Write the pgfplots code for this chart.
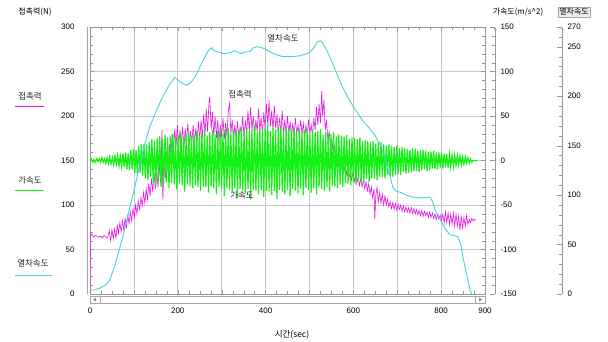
\documentclass[border=0pt]{standalone}
\usepackage{pgfplots}
\pgfplotsset{compat=1.18}
\usepackage{fontspec}
\setmainfont{Liberation Sans}
\newfontfamily\kr{Noto Sans CJK KR}
\definecolor{cf}{RGB}{230,20,230}
\definecolor{ca}{RGB}{20,240,20}
\definecolor{cs}{RGB}{70,210,220}
\definecolor{gr}{RGB}{200,200,200}
\pgfplotsset{
  base/.style={scale only axis, width=395bp, height=267bp, xmin=0, xmax=900,
    /pgf/number format/assume math mode=true,
    tick label style={font=\fontsize{8}{9}\selectfont},
    major tick length=4bp, minor tick length=2.5bp},
  side/.style={scale only axis, width=1bp, height=267bp, xmin=0, xmax=1,
    axis y line=right, axis x line=none, tick align=inside,
    /pgf/number format/assume math mode=true,
    tick label style={font=\fontsize{8}{9}\selectfont},
    yticklabel style={xshift=2bp},
    major tick length=5bp, minor tick length=3bp,
    axis line style={gray!80}, tick style={gray!80}},
}
\begin{document}
\begin{tikzpicture}
\useasboundingbox (-90bp,-48bp) rectangle (518bp,294bp);
% main axis: contact force
\begin{axis}[base, ymin=0, ymax=300,
  xtick={0,100,...,900}, xticklabels={0,,200,,400,,600,,800,900},
  ytick={0,50,...,300}, minor x tick num=3, minor y tick num=4,
  grid=major, major grid style={gr, line width=0.7pt},
  axis line style={gray!80}, tick style={gray!80},
  xticklabel style={yshift=-10bp}, yticklabel style={xshift=-12bp}]
\addplot[cf, line width=0.6pt] coordinates {
(0,0) (1,69) (2,66) (5,67) (8,64) (12,66) (16,65) (20,64) (24,65) (28,63) (32,66) (36,64) (40,63) (44,71) (47,60) (50,72) (53,62) (56,73) (59,63) (62,77) (65,68) (68,80) (71,70) (74,82) (77,72) (80,85) (83,75) (86,88) (89,79) (92,92) (95,82) (98,96) (101,86) (104,100) (107,90) (110,104) (113,95) (116,108) (119,99) (122,114) (125,102) (128,118) (131,106) (134,124) (137,110) (140,130) (143,115) (146,136) (149,118) (152,140) (155,120) (158,146) (161,125) (164,184) (166,105) (169,150) (172,130) (175,160) (178,138) (181,168) (184,150) (187,180) (190,160) (193,185) (196,165) (199,190) (202,166) (205,184) (208,168) (211,188) (214,164) (217,186) (220,170) (223,192) (226,166) (229,183) (232,170) (235,190) (238,167) (241,186) (244,171) (247,194) (250,172) (253,196) (256,175) (259,202) (262,178) (265,208) (268,182) (271,215) (273,222) (276,185) (279,205) (282,178) (285,200) (288,175) (291,196) (294,172) (297,190) (300,176) (303,198) (306,174) (309,192) (312,178) (315,205) (318,214) (321,180) (324,196) (327,172) (330,190) (333,176) (336,194) (339,174) (342,188) (345,178) (348,200) (351,176) (354,195) (357,180) (360,206) (363,182) (366,210) (369,184) (372,200) (375,178) (378,196) (381,182) (384,208) (387,184) (390,198) (393,180) (396,204) (399,186) (402,214) (405,190) (408,218) (411,188) (414,206) (417,184) (420,212) (423,186) (426,202) (429,180) (432,198) (435,182) (438,206) (441,180) (444,196) (447,178) (450,200) (453,180) (456,194) (459,176) (462,192) (465,178) (468,198) (471,180) (474,190) (477,176) (480,196) (483,180) (486,192) (489,174) (492,190) (495,178) (498,196) (501,180) (504,190) (507,178) (510,198) (513,184) (516,210) (519,190) (522,214) (525,192) (528,228) (530,200) (533,218) (536,184) (539,196) (542,172) (545,182) (548,166) (551,174) (554,158) (557,166) (560,150) (563,158) (566,144) (569,152) (572,140) (575,148) (578,136) (581,144) (584,134) (587,142) (590,130) (593,138) (596,128) (599,136) (602,126) (605,134) (608,124) (611,132) (614,122) (617,130) (620,120) (623,128) (626,118) (629,126) (632,116) (635,124) (638,112) (641,120) (644,108) (647,118) (649,83) (651,110) (654,120) (657,104) (660,114) (663,102) (666,112) (669,100) (672,110) (675,100) (678,106) (681,98) (684,104) (687,96) (690,103) (693,95) (696,102) (699,94) (702,101) (705,95) (708,100) (711,93) (714,99) (717,92) (720,98) (723,92) (726,97) (729,91) (732,97) (735,90) (738,96) (741,90) (744,95) (747,89) (750,94) (753,88) (756,94) (759,87) (762,93) (765,88) (768,92) (771,86) (774,92) (777,86) (780,91) (783,85) (786,90) (789,84) (792,90) (795,84) (798,89) (801,82) (804,90) (807,80) (810,92) (813,80) (816,91) (819,78) (822,90) (825,78) (828,91) (831,76) (834,90) (837,76) (840,88) (843,72) (846,88) (849,74) (852,86) (855,76) (858,88) (861,78) (864,84) (867,80) (870,85) (873,82) (876,84) (879,83)
};
\end{axis}
% acceleration
\begin{axis}[base, hide axis, ymin=-150, ymax=150]
\addplot[ca, line width=1.2pt] coordinates {
(0,0) (3,2) (6,-2) (9,1) (12,-2) (15,2) (18,-1) (21,2) (24,-2) (27,3) (30,-2) (33,2) (36,-3) (39,3) (42,-3) (45,4) (48,-4) (51,3) (54,-5) (57,5) (60,-4) (63,6) (66,-6) (69,5) (72,-7) (75,8) (78,-7) (81,9) (84,-10) (87,8) (90,-11) (93,12) (96,-10) (99,13) (102,-14) (105,12) (108,-15) (111,16) (114,-14) (117,18) (120,-17) (123,19) (126,-20) (129,18) (132,-22) (135,21) (138,-19) (141,24) (144,-25) (147,22) (150,-28) (153,25) (156,-23) (159,27) (162,-30) (165,24) (168,-26) (171,29) (174,-24) (177,26) (180,-31) (183,27) (186,-25) (189,30) (192,-27) (195,25) (198,-33) (201,28) (204,-26) (207,31) (210,-28) (213,26) (216,-35) (219,29) (222,-27) (225,32) (228,-29) (231,27) (234,-31) (237,30) (240,-28) (243,33) (246,-30) (249,28) (252,-34) (255,31) (258,-29) (261,35) (264,-30) (267,28) (270,-36) (273,32) (276,-29) (279,34) (282,-31) (285,29) (288,-38) (291,33) (294,-30) (297,35) (300,-32) (303,30) (306,-40) (309,34) (312,-31) (315,37) (318,-33) (321,30) (324,-36) (327,35) (330,-31) (333,32) (336,-42) (339,34) (342,-32) (345,38) (348,-33) (351,31) (354,-37) (357,36) (360,-32) (363,33) (366,-44) (369,35) (372,-33) (375,40) (378,-34) (381,32) (384,-38) (387,36) (390,-33) (393,34) (396,-41) (399,37) (402,-34) (405,42) (408,-35) (411,33) (414,-39) (417,37) (420,-34) (423,35) (426,-43) (429,36) (432,-33) (435,39) (438,-35) (441,32) (444,-38) (447,36) (450,-33) (453,34) (456,-40) (459,35) (462,-32) (465,38) (468,-34) (471,31) (474,-37) (477,35) (480,-32) (483,33) (486,-39) (489,34) (492,-31) (495,36) (498,-33) (501,30) (504,-36) (507,34) (510,-31) (513,32) (516,-38) (519,33) (522,-30) (525,35) (528,-32) (531,29) (534,-34) (537,32) (540,-30) (543,31) (546,-35) (549,30) (552,-28) (555,32) (558,-29) (561,27) (564,-31) (567,29) (570,-27) (573,28) (576,-30) (579,27) (582,-25) (585,29) (588,-26) (591,24) (594,-28) (597,26) (600,-24) (603,25) (606,-27) (609,24) (612,-22) (615,26) (618,-24) (621,22) (624,-25) (627,23) (630,-21) (633,22) (636,-24) (639,21) (642,-20) (645,22) (648,-21) (651,19) (654,-22) (657,20) (660,-18) (663,21) (666,-19) (669,18) (672,-20) (675,17) (678,-16) (681,18) (684,-17) (687,16) (690,-18) (693,15) (696,-16) (699,17) (702,-15) (705,14) (708,-16) (711,15) (714,-13) (717,14) (720,-15) (723,13) (726,-14) (729,12) (732,-13) (735,14) (738,-12) (741,13) (744,-12) (747,11) (750,-13) (753,12) (756,-11) (759,12) (762,-10) (765,11) (768,-12) (771,10) (774,-11) (777,10) (780,-9) (783,11) (786,-10) (789,9) (792,-10) (795,9) (798,-8) (801,9) (804,-9) (807,8) (810,-8) (813,7) (816,-8) (819,7) (822,-7) (825,6) (828,-7) (831,6) (834,-6) (837,6) (840,-5) (843,5) (846,-5) (849,4) (852,-4) (855,4) (858,-3) (861,3) (864,-3) (867,2) (870,-2) (873,0) (882,0)
};
\end{axis}
% train speed
\begin{axis}[base, hide axis, ymin=0, ymax=270]
\addplot[cs, line width=0.9pt] coordinates {
(0,4) (10,4) (23,6) (35,9) (45,14) (56,28) (68,47) (80,67) (91,88) (103,110) (114,132) (125,152) (137,170) (150,184) (164,198) (180,211) (193,219) (207,214) (220,211) (230,214) (240,220) (255,234) (268,245) (277,249) (283,246) (290,245) (305,243) (318,244) (330,246) (345,243) (355,245) (364,245) (372,249) (380,250) (392,249) (402,247) (414,244) (425,242) (440,240) (461,240) (480,241) (500,244) (510,249) (518,255) (525,256) (530,254) (540,246) (552,234) (565,220) (578,207) (591,196) (605,186) (620,176) (636,168) (650,160) (662,150) (672,138) (681,123) (690,108) (698,104) (706,103) (720,100) (736,98) (755,97) (775,98) (781,93) (786,85) (795,78) (802,72) (811,65) (820,60) (830,59) (838,58) (845,50) (850,37) (858,20) (866,4) (870,0)
};
\end{axis}
% acceleration scale
\begin{axis}[side, at={(404bp,0)}, ymin=-150, ymax=150,
  ytick={-150,-100,...,150}, minor ytick={-150,-140,...,150}]
\end{axis}
% speed scale
\begin{axis}[side, at={(471bp,0)}, ymin=0, ymax=270,
  ytick={0,50,100,150,200,250,270}, minor ytick={0,10,...,270}]
\end{axis}
% scroll bars
\draw[gray!70] (0,-2bp) rectangle (395bp,-9bp);
\draw[gray!70] (10bp,-2bp) -- (10bp,-9bp);
\draw[gray!70] (385bp,-2bp) -- (385bp,-9bp);
\fill[gray!90] (3bp,-5.5bp) -- (6bp,-3.5bp) -- (6bp,-7.5bp) -- cycle;
\fill[gray!90] (392bp,-5.5bp) -- (389bp,-3.5bp) -- (389bp,-7.5bp) -- cycle;
\draw[gray!70] (-3bp,0) -- (-3bp,267bp);
% titles
\node[font=\kr\fontsize{8}{9}\selectfont] at (-55bp,282bp) {접촉력(N)};
\node[font=\kr\fontsize{8}{9}\selectfont] at (428bp,282bp) {가속도(m/s\textasciicircum 2)};
\node[font=\kr\fontsize{8}{9}\selectfont, fill=gray!15, draw=gray!70, inner sep=1.2bp] at (484bp,282bp) {열차속도};
\node[font=\kr\fontsize{8.5}{9}\selectfont] at (202bp,-41bp) {시간(sec)};
% legend on the left
\node[font=\kr\fontsize{8.5}{9}\selectfont, text=gray!30!black] at (-60bp,198bp) {접촉력};
\draw[cf, line width=0.8pt] (-75bp,188bp) -- (-46bp,188bp);
\node[font=\kr\fontsize{8.5}{9}\selectfont, text=gray!30!black] at (-60bp,114bp) {가속도};
\draw[ca, line width=0.8pt] (-75bp,104bp) -- (-46bp,104bp);
\node[font=\kr\fontsize{8.5}{9}\selectfont, text=gray!30!black] at (-57bp,31bp) {열차속도};
\draw[cs, line width=1pt] (-75bp,19bp) -- (-38bp,19bp);
% in-plot labels
\node[font=\kr\fontsize{8.5}{9}\selectfont, text=gray!30!black] at (193bp,256bp) {열차속도};
\node[font=\kr\fontsize{8.5}{9}\selectfont, text=gray!30!black] at (150bp,200bp) {접촉력};
\node[font=\kr\fontsize{8.5}{9}\selectfont, text=gray!30!black] at (152bp,99bp) {가속도};
\end{tikzpicture}
\end{document}
